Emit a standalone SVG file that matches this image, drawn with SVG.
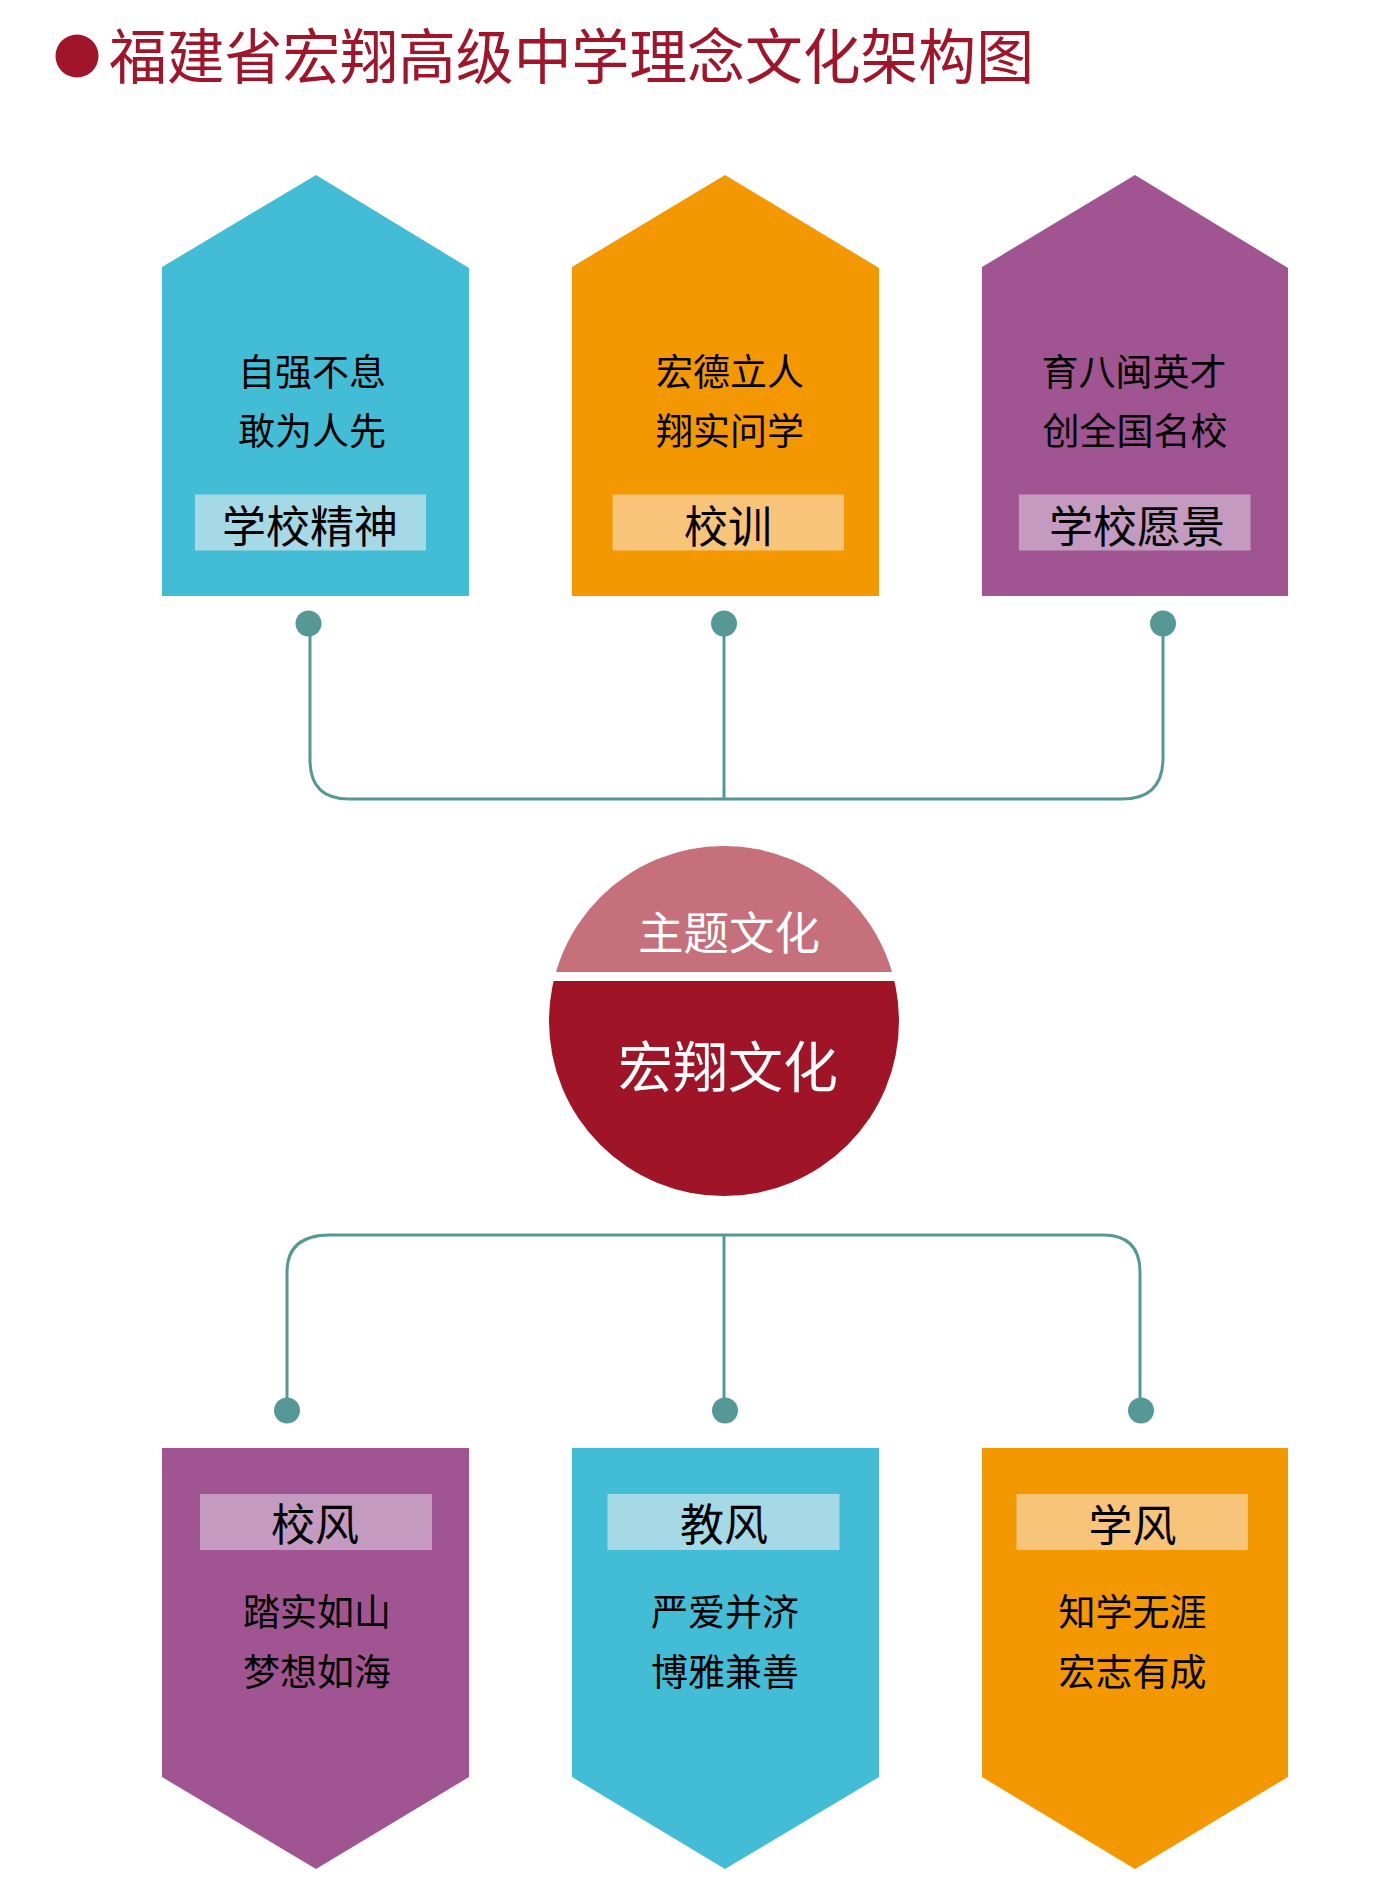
<svg xmlns="http://www.w3.org/2000/svg" width="1393" height="1902" viewBox="0 0 1393 1902">
<style>
.t{font-family:"Noto Sans CJK SC","Noto Sans",sans-serif;text-anchor:middle;fill:#000}
.body{font-size:37px}
.lbl{font-size:44px}
.conn{fill:none;stroke:#569896;stroke-width:3}
.dot{fill:#569896}
</style>
<defs>
<clipPath id="capTop"><rect x="500" y="800" width="450" height="172"/></clipPath>
<clipPath id="capBot"><rect x="500" y="981" width="450" height="260"/></clipPath>
</defs>
<rect width="1393" height="1902" fill="#fff"/>
<g id="title">
<circle cx="77" cy="56" r="21.5" fill="#a0152a"/>
<text x="109" y="79" textLength="925" lengthAdjust="spacingAndGlyphs" style="font-family:'Noto Sans CJK SC',sans-serif;font-size:60px;fill:#a0152a">福建省宏翔高级中学理念文化架构图</text>
</g>
<g id="connectors">
<path class="conn" d="M310,623 V760 Q310,799 349,799 H1122 Q1163,799 1163,758 V623"/>
<path class="conn" d="M724,623 V799"/>
<path class="conn" d="M287,1410 V1272 Q287,1235 330,1235 H1103 Q1140,1235 1140,1272 V1410"/>
<path class="conn" d="M724,1235 V1410"/>
<circle class="dot" cx="308.5" cy="623.5" r="13"/>
<circle class="dot" cx="724" cy="623.5" r="13"/>
<circle class="dot" cx="1163" cy="623.5" r="13"/>
<circle class="dot" cx="287" cy="1410.5" r="13"/>
<circle class="dot" cx="725" cy="1410.5" r="13"/>
<circle class="dot" cx="1141" cy="1410.5" r="13"/>
</g>
<g id="node-spirit">
<polygon points="162,267 316,175 469,268 469,596 162,596" fill="#42bdd5"/>
<rect x="195" y="494.5" width="231" height="56" fill="#a6d9e6"/>
<text class="t body" x="312" y="386">自强不息</text>
<text class="t body" x="312" y="445">敢为人先</text>
<text class="t lbl" x="310" y="543">学校精神</text>
</g>
<g id="node-motto">
<polygon points="572,267 725,175 879,268 879,596 572,596" fill="#f39800"/>
<rect x="612.5" y="494.5" width="231.5" height="56" fill="#f8c479"/>
<text class="t body" x="730" y="386">宏德立人</text>
<text class="t body" x="730" y="445">翔实问学</text>
<text class="t lbl" x="728" y="543">校训</text>
</g>
<g id="node-vision">
<polygon points="982,267 1135,175 1288,268 1288,596 982,596" fill="#a05592"/>
<rect x="1019" y="494.5" width="231.5" height="56" fill="#c59ac0"/>
<text class="t body" x="1134" y="386">育八闽英才</text>
<text class="t body" x="1135" y="445">创全国名校</text>
<text class="t lbl" x="1137" y="543">学校愿景</text>
</g>
<g id="node-center">
<circle cx="724" cy="1021" r="175" fill="#c5707b" clip-path="url(#capTop)"/>
<circle cx="724" cy="1021" r="175" fill="#a01427" clip-path="url(#capBot)"/>
<text class="t" x="729" y="950" style="font-size:45.5px;fill:#fff">主题文化</text>
<text class="t" x="728" y="1087" style="font-size:55px;fill:#fff">宏翔文化</text>
</g>
<g id="node-schoolstyle">
<polygon points="162,1448 469,1448 469,1777 316,1869 162,1777" fill="#a05592"/>
<rect x="200" y="1494" width="232" height="56" fill="#c59ac0"/>
<text class="t lbl" x="315" y="1541">校风</text>
<text class="t body" x="317" y="1626">踏实如山</text>
<text class="t body" x="317" y="1686">梦想如海</text>
</g>
<g id="node-teachstyle">
<polygon points="572,1448 879,1448 879,1777 725,1869 572,1777" fill="#42bdd5"/>
<rect x="607.5" y="1494" width="232" height="56" fill="#a6d9e6"/>
<text class="t lbl" x="724" y="1541">教风</text>
<text class="t body" x="725" y="1626">严爱并济</text>
<text class="t body" x="725" y="1686">博雅兼善</text>
</g>
<g id="node-studystyle">
<polygon points="982,1448 1288,1448 1288,1777 1135,1869 982,1777" fill="#f39800"/>
<rect x="1016.5" y="1494" width="231.5" height="56" fill="#f8c479"/>
<text class="t lbl" x="1132.5" y="1542">学风</text>
<text class="t body" x="1132.5" y="1626">知学无涯</text>
<text class="t body" x="1132.5" y="1686">宏志有成</text>
</g>
</svg>
